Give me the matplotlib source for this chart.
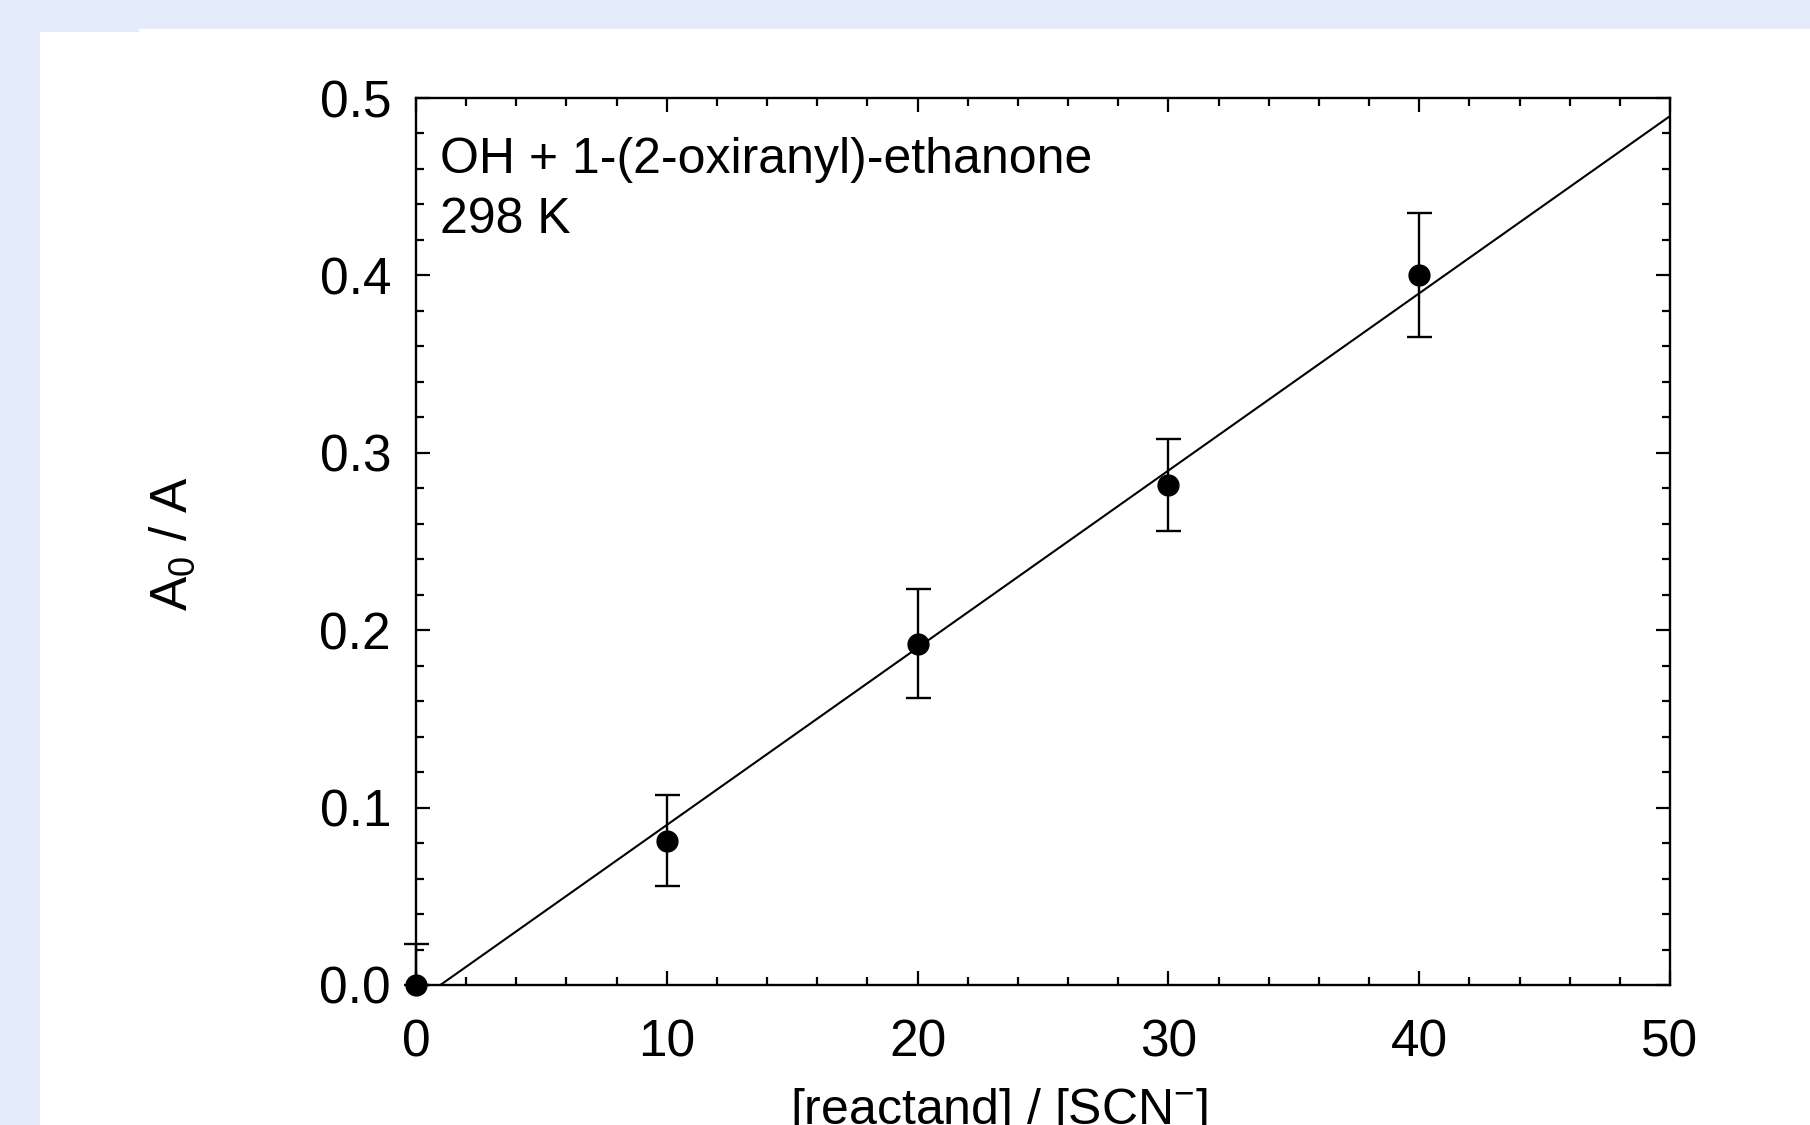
import numpy as np
import matplotlib
matplotlib.use("Agg")
import matplotlib.pyplot as plt
from matplotlib.patches import Rectangle

plt.rcParams['font.family'] = ['Liberation Sans', 'DejaVu Sans']
plt.rcParams['mathtext.fontset'] = 'custom'
plt.rcParams['mathtext.rm'] = 'Liberation Sans'
plt.rcParams['mathtext.it'] = 'Liberation Sans:italic'
plt.rcParams['mathtext.default'] = 'regular'

""" Data read off the reference """
ratio = [0, 10, 20, 30, 40]                 # [reactand] / [SCN-]
a_ratio = [0.0, 0.081, 0.192, 0.282, 0.400]  # A0 / A
err_lo = [0.0, 0.025, 0.030, 0.026, 0.035]
err_hi = [0.023, 0.026, 0.031, 0.026, 0.035]

fit_slope = 0.00999
fit_icpt = -0.0097

W, H = 1810, 1125
fig = plt.figure(figsize=(W / 100, H / 100), dpi=100)
fig.patch.set_facecolor('#e4ebfa')
# white panel over the blue page
fig.patches.append(Rectangle((40 / W, 0), 99 / W, 1 - 32 / H, transform=fig.transFigure,
                             facecolor='white', edgecolor='none', zorder=-5))
fig.patches.append(Rectangle((139 / W, 0), 1 - 139 / W, 1 - 29 / H, transform=fig.transFigure,
                             facecolor='white', edgecolor='none', zorder=-5))

ax = fig.add_axes([416 / W, 1 - 985 / H, 1254 / W, 887 / H])
ax.set_facecolor('none')

xs = np.array([0, 50])
ax.plot(xs, fit_slope * xs + fit_icpt, color='black', lw=1.5, zorder=2)

ax.errorbar(ratio, a_ratio, yerr=[err_lo, err_hi], fmt='o', color='black',
            ms=15, elinewidth=1.7, capsize=9, capthick=1.7, clip_on=False, zorder=3)

ax.set_xlim(0, 50)
ax.set_ylim(0, 0.5)
ax.set_xticks(np.arange(0, 51, 10))
ax.set_xticks(np.arange(0, 51, 2), minor=True)
ax.set_yticks(np.arange(0, 0.51, 0.1))
ax.set_yticks(np.arange(0, 0.51, 0.02), minor=True)
ax.set_xticklabels([f"{v:d}" for v in range(0, 51, 10)])
ax.set_yticklabels([f"{v:.1f}" for v in np.arange(0, 0.51, 0.1)])

ax.tick_params(which='both', direction='in', top=True, right=True, width=1.6)
ax.tick_params(which='major', length=10, labelsize=37)
ax.tick_params(which='minor', length=6)
ax.tick_params(axis='x', pad=24)
ax.tick_params(axis='y', pad=18)
for s in ax.spines.values():
    s.set_linewidth(1.7)

ax.text(0.019, 0.9155, "OH + 1-(2-oxiranyl)-ethanone", transform=ax.transAxes,
        fontsize=36, va='baseline', ha='left')
ax.text(0.019, 0.8478, "298 K", transform=ax.transAxes,
        fontsize=36, va='baseline', ha='left')

fig.text(173 / W, 1 - 543 / H, "A$_0$ / A", rotation=90, ha='center', va='center', fontsize=37)
fig.text(999 / W, 1 / H, "[reactand] / [SCN$^{-}$]", ha='center', va='baseline', fontsize=36)

fig.savefig("out.png", dpi=100, facecolor=fig.get_facecolor())
